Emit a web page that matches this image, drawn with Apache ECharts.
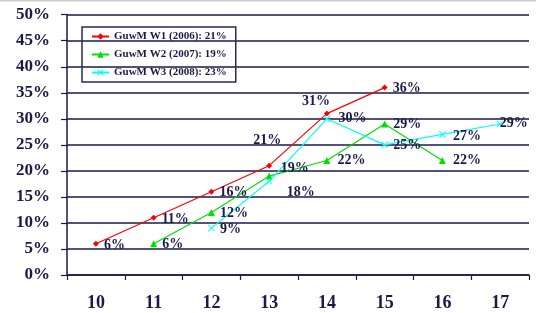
<!DOCTYPE html>
<html>
<head>
<meta charset="utf-8">
<script src="https://cdn.jsdelivr.net/npm/echarts@6/dist/echarts.min.js"></script>
<style>html,body{margin:0;padding:0;background:#fff;}#c{width:536px;height:313px;}</style>
</head>
<body>
<div id="c"></div>
<script>
var categories = ['10', '11', '12', '13', '14', '15', '16', '17'];
var seriesNames = ['GuwM W1 (2006): 21%', 'GuwM W2 (2007): 19%', 'GuwM W3 (2008): 23%'];
var w1 = [6, 11, 16, 21, 31, 36, null, null];
var w2 = [null, 6, 12, 19, 22, 29, 22, null];
var w3 = [null, null, 9, 18, 30, 25, 27, 29];

// label placement tweaks (index -> [position, offset])
var labelTweaks = [
  {0: ['right', [0, 2]], 1: ['right', [0, 2]], 2: ['right', [0, 1]], 3: ['top', [-2, -10]], 4: ['top', [-11, 3]], 5: ['right', [0, 1]]},
  {1: ['right', [0, 1]], 2: ['right', [0, 1]], 3: ['right', [3, -8]], 4: ['right', [2, 0]], 5: ['right', [0, 0]], 6: ['right', [2, 0]]},
  {2: ['right', [0, 1]], 3: ['right', [9, 11]], 4: ['right', [3, 0]], 5: ['right', [0, 1]], 6: ['right', [2, 2]], 7: ['right', [-9, -1]]}
];

var navy = '#1a1a4a';
var colors = ['#ff0000', '#00e000', '#00ffff'];
var symbols = ['diamond', 'triangle', 'path://M0,1L1,0L5,4L9,0L10,1L6,5L10,9L9,10L5,6L1,10L0,9L4,5Z'];
var symbolSizes = [6, 7, 7];

function build(values, si) {
  return values.map(function (v, i) {
    if (v === null) return null;
    var t = labelTweaks[si][i] || ['right', [0, 0]];
    return { value: v, label: { position: t[0], offset: t[1] } };
  });
}

var chart = echarts.init(document.getElementById('c'), null, { renderer: 'canvas' });
var allData = [w1, w2, w3];
var series = allData.map(function (d, si) {
  return {
    name: seriesNames[si],
    type: 'line',
    data: build(d, si),
    symbol: symbols[si],
    symbolSize: symbolSizes[si],
    itemStyle: { color: colors[si] },
    lineStyle: { color: colors[si], width: 1.2 },
    label: {
      show: true,
      formatter: '{c}%',
      distance: 5,
      color: navy,
      fontFamily: 'Liberation Serif',
      fontWeight: 'bold',
      fontSize: 14
    },
    emphasis: { disabled: true },
    animation: false
  };
});

chart.setOption({
  animation: false,
  backgroundColor: '#fff',
  graphic: [{
    type: 'line',
    shape: { x1: 0, y1: 0.5, x2: 536, y2: 0.5 },
    style: { stroke: '#cccccc', lineWidth: 2 }
  }],
  grid: { left: 67, right: 7, top: 14.7, bottom: 38, containLabel: false },
  legend: {
    orient: 'vertical',
    left: 82,
    top: 27,
    padding: [4, 9, 4, 9],
    itemGap: 7,
    itemWidth: 17,
    itemHeight: 8,
    itemTextGap: 2,
    borderColor: '#2a2a55',
    borderWidth: 1.5,
    backgroundColor: 'transparent',
    textStyle: { color: navy, fontFamily: 'Liberation Serif', fontWeight: 'bold', fontSize: 11 },
    data: seriesNames
  },
  xAxis: {
    type: 'category',
    data: categories,
    boundaryGap: true,
    axisLine: { show: true, lineStyle: { color: navy, width: 1.5 } },
    axisTick: { show: true, length: 5, lineStyle: { color: navy, width: 1.2 } },
    axisLabel: { color: navy, fontFamily: 'Liberation Serif', fontWeight: 'bold', fontSize: 18, margin: 19 },
    splitLine: { show: false }
  },
  yAxis: {
    type: 'value',
    min: 0,
    max: 50,
    interval: 5,
    axisLine: { show: true, lineStyle: { color: navy, width: 1.5 } },
    axisTick: { show: true, length: 6, lineStyle: { color: navy, width: 1.2 } },
    axisLabel: { formatter: '{value}%', color: navy, fontFamily: 'Liberation Serif', fontWeight: 'bold', fontSize: 17, margin: 17 },
    splitLine: { show: true, lineStyle: { color: navy, width: 1.5 } }
  },
  series: series
});
</script>
</body>
</html>
